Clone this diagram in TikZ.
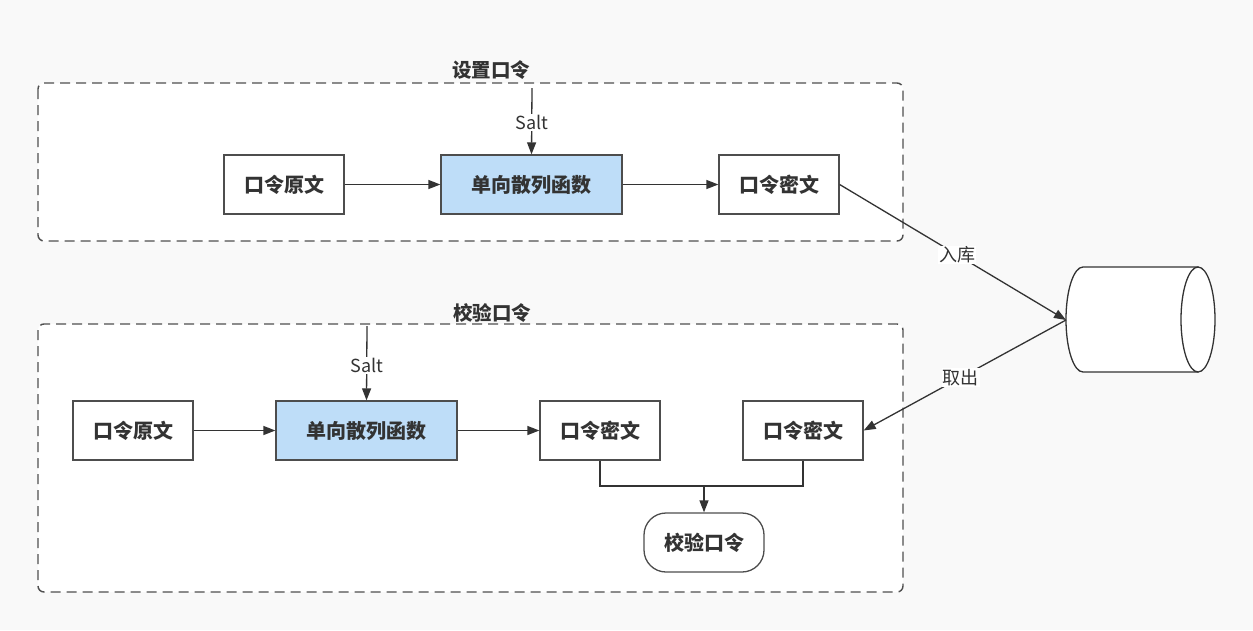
\documentclass[tikz,border=0pt]{standalone}
\usepackage{fontspec}
\setmainfont{Noto Sans CJK SC}
\usetikzlibrary{arrows.meta,positioning}
\definecolor{bgc}{HTML}{F9F9F9}
\definecolor{ln}{HTML}{333333}
\definecolor{bx}{HTML}{4D4D4D}
\definecolor{dsh}{HTML}{4F4F4F}
\definecolor{blu}{HTML}{BEDDF8}
\tikzset{
  box/.style={draw=bx,line width=1.3pt,fill=white,minimum width=120pt,minimum height=59pt,inner sep=0pt,font=\fontsize{20}{24}\selectfont\bfseries,text=ln},
  hash/.style={box,fill=blu,minimum width=181pt},
  grp/.style={draw=dsh,line width=1.4pt,dash pattern=on 10pt off 6pt,rounded corners=6pt,fill=white},
  gtitle/.style={font=\fontsize{19.5}{23}\selectfont\bfseries,text=ln,inner sep=1pt},
  conn/.style={draw=ln,line width=1.3pt,-{Triangle[length=12pt,width=9pt]}},
  lbl/.style={fill=white,font=\fontsize{18}{22}\selectfont,text=ln,inner sep=1pt},
}
\begin{document}
\begin{tikzpicture}[x=1pt,y=-1pt]
\useasboundingbox (0,0) rectangle (1253,630);
\fill[bgc] (0,0) rectangle (1253,630);
% groups
\draw[grp] (38,83) rectangle (903,241);
\draw[grp] (38,324) rectangle (903,592);
\node[gtitle] (t1) at (491,70) {设置口令};
\node[gtitle] (t2) at (492,313) {校验口令};
% top row
\node[box] (a1) at (284,184.5) {口令原文};
\node[hash] (h1) at (531.5,184.5) {单向散列函数};
\node[box] (c1) at (779,184.5) {口令密文};
\coordinate (s1) at (532,88);
\draw[conn] (s1) -- node[lbl,pos=0.52] {Salt} (h1.north);
\draw[conn] (a1) -- (h1);
\draw[conn] (h1) -- (c1);
% cylinder
\coordinate (db) at (1066,320);
\draw[ln,line width=1.3pt,fill=white] (1083,267) -- (1198,267) -- (1198,372) -- (1083,372)
  arc[start angle=270,end angle=90,x radius=17pt,y radius=52.5pt] -- cycle;
\draw[ln,line width=1.3pt,fill=white] (1198,319.5) ellipse[x radius=17pt,y radius=52.5pt];
% bottom row
\node[box] (a2) at (133,430.5) {口令原文};
\node[hash] (h2) at (366.5,430.5) {单向散列函数};
\node[box] (c2) at (600,430.5) {口令密文};
\node[box] (c3) at (803,430.5) {口令密文};
\node[box,rounded corners=22pt] (v) at (704,542.5) {校验口令};
\coordinate (s2) at (367,326);
\draw[conn] (s2) -- node[lbl,pos=0.53] {Salt} (h2.north);
\draw[conn] (a2) -- (h2);
\draw[conn] (h2) -- (c2);
\coordinate (m) at (704,486);
\draw[ln,line width=1.3pt] (c2.south) -- (600,486) -- (803,486) -- (c3.south);
\draw[conn] (m) -- (v.north);
% store / fetch
\draw[conn] (c1.east) -- node[lbl,pos=0.52] {入库} (db);
\draw[conn] (db) -- node[lbl,pos=0.52] {取出} (c3.east);
\end{tikzpicture}
\end{document}
